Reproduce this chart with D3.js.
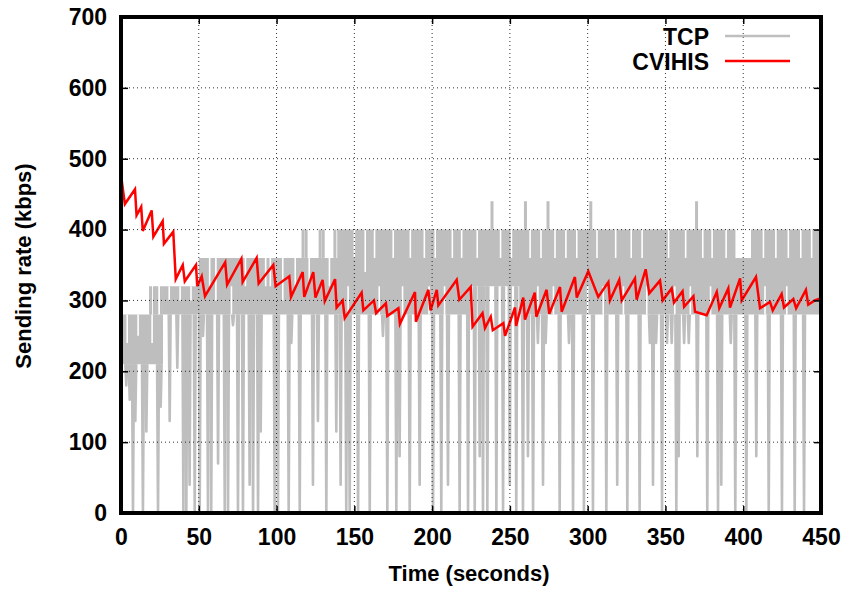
<!DOCTYPE html>
<html>
<head>
<meta charset="utf-8">
<script src="https://cdn.jsdelivr.net/npm/d3@7"></script>
<style>
  html, body { margin: 0; padding: 0; background: #fff; }
  svg { display: block; }
  text { font-family: "Liberation Sans", Arial, Helvetica, sans-serif; fill: #000; font-weight: bold; }
</style>
</head>
<body>
<svg id="chart" width="843" height="590"></svg>
<script>
// ---------------- data ----------------
const xTicks = [0, 50, 100, 150, 200, 250, 300, 350, 400, 450];
const yTicks = [0, 100, 200, 300, 400, 500, 600, 700];
const seriesNames = ["TCP", "CVIHIS"];

// CVIHIS sending rate (sawtooth)
const cvTime = [0.4, 2.5, 9, 10, 13, 14, 19.7, 20.8, 26.8, 27.6, 33.6, 35.2, 39.7, 41, 48.2, 49, 51.9, 54,
  67, 68.2, 77.4, 78.2, 87.2, 88.5, 97.9, 99.4, 108.2, 109.3, 116.8, 117.8, 123.6, 125, 129.6, 131,
  137.6, 138.6, 142.5, 143.8, 154.7, 155.8, 162.6, 164, 170.3, 171.2, 178.3, 179.3, 189, 189.6,
  197.6, 199, 203, 204, 215.8, 217.5, 224.8, 226, 232.4, 234, 237.7, 239, 245.8, 246.9, 253.3, 254,
  258.6, 259.7, 266, 267, 273.6, 275.3, 282.2, 283.3, 291.8, 293, 300.4, 306.8, 313.3, 314.3,
  320.3, 321.9, 330.4, 331.5, 337.3, 339.6, 346.5, 348.2, 354, 355.5, 361, 362, 368, 369, 376.5,
  383, 384.6, 390.4, 391.5, 398, 399, 408.2, 410.8, 417.2, 419, 424.7, 426.2, 432.2, 434, 440.3,
  441.8, 446, 450];
const cvRate = [470, 436, 457, 420, 432, 398, 427, 390, 412, 380, 397, 330, 350, 327, 350, 320, 334, 306,
  354, 322, 359, 326, 360, 324, 350, 320, 334, 305, 340, 305, 340, 304, 329, 299,
  330, 290, 300, 275, 311, 286, 300, 282, 296, 278, 289, 267, 312, 270,
  315, 286, 315, 293, 329, 301, 319, 263, 282, 261, 277, 258, 268, 250, 290, 264,
  304, 273, 311, 277, 315, 281, 319, 284, 333, 304, 341, 305, 326, 300,
  329, 300, 331, 301, 344, 310, 328, 300, 317, 297, 313, 291, 306, 284, 279,
  312, 289, 317, 290, 331, 300, 333, 289, 298, 286, 309, 290, 302, 289, 315,
  294, 300, 303];

// TCP: the rate flickers inside a band; band edges per time span
const tcpBandStart = [0, 27, 50, 139, 222, 256, 395, 405, 450];
const tcpBandLow   = [210, 280, 280, 280, 320, 280, 280, 280, 280];
const tcpBandHigh  = [280, 320, 360, 400, 400, 400, 360, 400, 400];

// white slits inside the band where the rate stays on one level (time, from, to)
const tcpGapTime = [4, 11, 20, 31, 38, 45, 57, 61, 71, 80, 93, 96, 104, 112, 121, 134,
  146, 150, 157, 163, 166, 175, 181, 186, 195, 198, 202, 208, 213, 219,
  229, 244, 251, 263, 268, 270, 278, 279, 286, 293, 300, 306, 310, 318, 323, 328, 335, 338,
  352, 356, 363, 366, 374, 379, 380, 389, 413, 414, 421, 428, 429, 437, 444];
const tcpGapFrom = [280, 280, 280, 320, 320, 320, 360, 360, 280, 360, 360, 360, 360, 360, 360, 360,
  280, 400, 400, 400, 280, 400, 280, 400, 400, 280, 400, 280, 400, 400,
  400, 400, 400, 400, 280, 400, 280, 400, 400, 400, 280, 400, 280, 400, 280, 400, 400, 280,
  400, 280, 400, 280, 400, 280, 400, 400, 400, 280, 400, 280, 400, 400, 400];
const tcpGapTo = [240, 250, 240, 300, 300, 300, 320, 300, 320, 320, 320, 320, 300, 320, 320, 320,
  320, 360, 340, 360, 320, 360, 320, 360, 360, 320, 360, 320, 360, 360,
  360, 360, 360, 360, 320, 360, 320, 360, 360, 360, 320, 360, 320, 360, 320, 360, 360, 320,
  360, 320, 360, 320, 360, 320, 360, 360, 360, 320, 360, 320, 360, 360, 360];

// TCP drops (time, lowest rate)
const tcpDipTime = [3.4, 5.6, 7.7, 9.2, 14.1, 16.3, 23.8, 25.5, 31.3, 36.2, 40.1, 42, 44.1, 47.4, 50.6,
  52.7, 55.9, 58, 62.4, 66.7, 68.8, 72, 75.2, 78.4, 82.7, 84.9, 88.1,
  89.8, 98.8, 100.9, 107.8, 109.5, 114.9, 123.4, 126.6, 132, 138.4, 141.2, 144.8, 147, 152.4, 159.9,
  168.4, 171.2, 177,
  179.1, 185.6, 192, 200.6, 205.9, 210.2, 217.7, 223.1, 227.4, 230.6, 232.7, 235.5, 241.3, 245.6,
  249.9, 254.1, 258.4, 261.6, 264.9,
  268, 271.3, 273, 282, 288, 290.6, 297.6, 303.4, 312, 319, 325.5, 333.4, 340, 342, 344, 347.8, 351, 354, 357,
  358.5, 362, 365, 370.5, 376.9, 383.8, 385.9, 392, 394.9, 402, 408.4, 416.4, 424.9, 433.1, 439.1];
const tcpDipRate = [180, 160, 0, 130, 0, 115, 0, 150, 130, 205, 0, 0, 40, 0, 0,
  250, 0, 0, 70, 0, 0, 265, 0, 0, 40, 0, 0,
  115, 0, 0, 0, 240, 0, 40, 130, 0, 115, 40, 0, 0, 0, 0,
  250, 0, 0,
  80, 0, 40, 0, 0, 40, 0, 0, 0, 80, 0, 0, 0, 0,
  40, 0, 0, 80, 0,
  240, 40, 240, 0, 240, 0, 0, 0, 0, 40, 0, 0, 240, 40, 240, 0, 240, 240, 0,
  80, 240, 240, 80, 0, 0, 40, 240, 0, 0, 80, 0, 0, 0, 0];

// TCP short bursts above the band (time, rate)
const tcpPeakTime = [0.3, 19, 21.5, 23, 26, 117, 119, 128, 130, 137.5, 238.5, 260, 274.5, 302, 370];
const tcpPeakRate = [640, 320, 320, 320, 320, 400, 400, 400, 400, 400, 440, 440, 440, 440, 440];

// ---------------- drawing ----------------
const W = 843, H = 590;
const L = 121, R = 821, T = 17, B = 513;
const svg = d3.select("#chart");
svg.append("rect").attr("width", W).attr("height", H).attr("fill", "#fff");

const x = d3.scaleLinear().domain([0, 450]).range([L, R]);
const y = d3.scaleLinear().domain([0, 700]).range([B, T]);

const GRAY = "#bebebe", RED = "#ff0000";

svg.append("clipPath").attr("id", "plotclip")
  .append("rect").attr("x", L).attr("y", T).attr("width", R - L).attr("height", B - T);
const plot = svg.append("g").attr("clip-path", "url(#plotclip)");

// TCP band
const band = tcpBandStart.map((t, i) => ({ t, lo: tcpBandLow[i], hi: tcpBandHigh[i] }));
const bandAt = t => { let b = band[0]; for (const d of band) if (d.t <= t) b = d; return b; };
plot.append("path")
  .datum(band)
  .attr("fill", GRAY)
  .attr("d", d3.area().curve(d3.curveStepAfter)
    .x(d => x(d.t)).y0(d => y(d.lo)).y1(d => y(d.hi)));

const seg = d3.line().x(d => x(d[0])).y(d => y(d[1]));
// white slits
tcpGapTime.forEach((t, i) => {
  plot.append("path")
    .attr("d", seg([[t, tcpGapFrom[i]], [t, tcpGapTo[i]]]))
    .attr("stroke", "#fff").attr("stroke-width", 1.6).attr("fill", "none");
});
// drops
tcpDipTime.forEach((t, i) => {
  plot.append("path")
    .attr("d", seg([[t - 0.6, bandAt(t).lo], [t, tcpDipRate[i]], [t + 0.6, bandAt(t).lo]]))
    .attr("stroke", GRAY).attr("stroke-width", 2.6).attr("fill", GRAY).attr("stroke-linejoin", "round");
});
// bursts
tcpPeakTime.forEach((t, i) => {
  plot.append("path")
    .attr("d", seg([[t, bandAt(t).hi], [t, tcpPeakRate[i]]]))
    .attr("stroke", GRAY).attr("stroke-width", 3).attr("fill", "none");
});

// grid (dotted)
const grid = svg.append("g");
xTicks.filter(v => v > 0 && v < 450).forEach(v => {
  grid.append("line").attr("x1", x(v)).attr("x2", x(v)).attr("y1", T).attr("y2", B)
    .attr("stroke", "#000").attr("stroke-width", 1).attr("stroke-dasharray", "1,3").attr("opacity", 0.8);
});
yTicks.filter(v => v > 0 && v < 700).forEach(v => {
  grid.append("line").attr("x1", L).attr("x2", R).attr("y1", y(v)).attr("y2", y(v))
    .attr("stroke", "#000").attr("stroke-width", 1).attr("stroke-dasharray", "1,3").attr("opacity", 0.8);
});

// CVIHIS line
plot.append("path")
  .datum(cvTime.map((t, i) => [t, cvRate[i]]))
  .attr("fill", "none").attr("stroke", RED).attr("stroke-width", 2.5)
  .attr("stroke-linejoin", "miter")
  .attr("d", d3.line().x(d => x(d[0])).y(d => y(d[1])));

// axes with inward ticks (mirrored)
const fs = 22;
const ax = svg.append("g").attr("transform", `translate(0,${B})`)
  .call(d3.axisBottom(x).tickValues(xTicks).tickSize(-7).tickPadding(16).tickFormat(d3.format("d")));
const axT = svg.append("g").attr("transform", `translate(0,${T})`)
  .call(d3.axisTop(x).tickValues(xTicks).tickSize(-7).tickFormat(""));
const ay = svg.append("g").attr("transform", `translate(${L},0)`)
  .call(d3.axisLeft(y).tickValues(yTicks).tickSize(-7).tickPadding(14).tickFormat(d3.format("d")));
const ayR = svg.append("g").attr("transform", `translate(${R},0)`)
  .call(d3.axisRight(y).tickValues(yTicks).tickSize(-7).tickFormat(""));
[ax, axT, ay, ayR].forEach(g => {
  g.select(".domain").remove();
  g.selectAll(".tick line").attr("stroke", "#000").attr("stroke-width", 1.5);
  g.selectAll("text").style("font-size", "23px").style("font-weight", "bold")
    .style("font-family", '"Liberation Sans", Arial, sans-serif').attr("fill", "#000");
});

// frame
svg.append("rect").attr("x", L).attr("y", T).attr("width", R - L).attr("height", B - T)
  .attr("fill", "none").attr("stroke", "#000").attr("stroke-width", 4);

// axis titles
svg.append("text").attr("x", 469).attr("y", 581).attr("text-anchor", "middle")
  .style("font-size", fs + "px").text("Time (seconds)");
svg.append("text").attr("transform", "translate(31,266) rotate(-90)").attr("text-anchor", "middle")
  .style("font-size", fs + "px").text("Sending rate (kbps)");

// legend
const legend = svg.append("g");
[[seriesNames[0], GRAY, 36], [seriesNames[1], RED, 61]].forEach(([name, col, yy]) => {
  legend.append("text").attr("x", 709).attr("y", yy + 9).attr("text-anchor", "end")
    .style("font-size", "23px").text(name);
  legend.append("line").attr("x1", 725).attr("x2", 790).attr("y1", yy).attr("y2", yy)
    .attr("stroke", col).attr("stroke-width", 2.5);
});
</script>
</body>
</html>
